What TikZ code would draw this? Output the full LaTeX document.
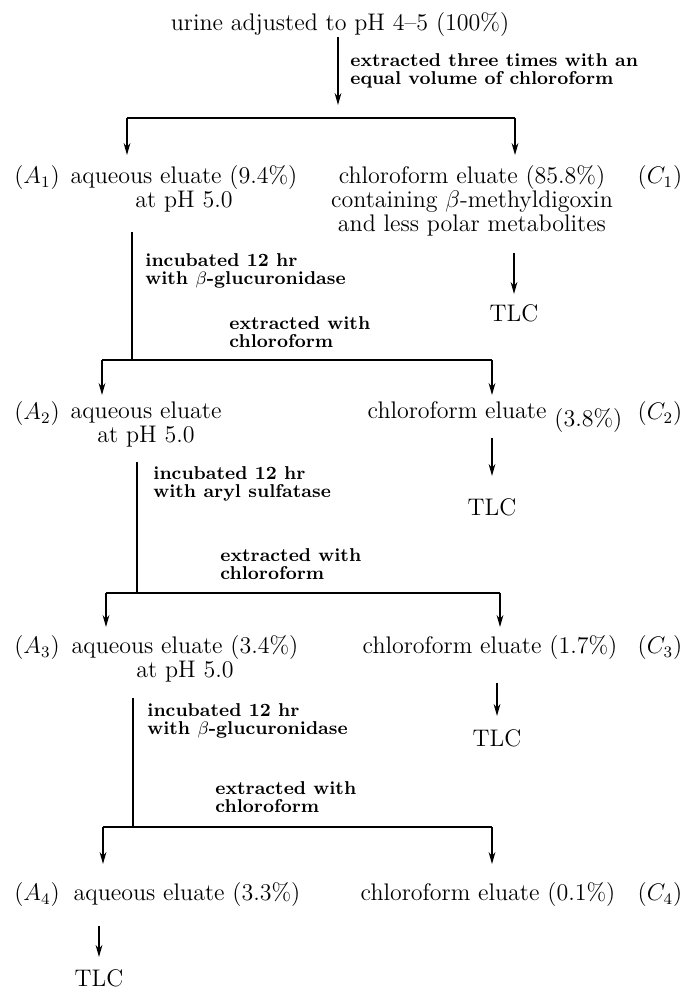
\documentclass[tikz,border=0pt]{standalone}
\usepackage{fontspec}
\usepackage{tikz}
\usetikzlibrary{arrows.meta,calc}
\pgfkeys{tikz/mytext/.style={font=\fontsize{12}{12}\selectfont,inner sep=0pt,align=center,anchor=north}}
\pgfkeys{tikz/mynote/.style={font=\fontsize{9.3}{9}\selectfont\bfseries,inner sep=0pt,align=left,anchor=north west}}
\pgfkeys{tikz/mytlc/.style={font=\fontsize{12}{12}\selectfont,inner sep=0pt}}
\pgfkeys{tikz/myarrow/.style={line width=0.65pt,-{Stealth[length=6pt,width=3.4pt]}}}
\pgfkeys{tikz/mystem/.style={line width=0.65pt}}
\pgfkeys{tikz/mybar/.style={line width=1pt}}
\newcommand*\mysplitbar[5][4pt]{
    \draw[mybar] (#2) -- (#3);
    \draw[myarrow,shorten >=#1] (#2) -- (#2 |- #4.north);
    \draw[myarrow,shorten >=#1] (#3) -- (#3 |- #5.north);
}

\begin{document}
\begin{tikzpicture}[x=0.5pt,y=-0.5pt]
    \useasboundingbox (0,0) rectangle (686,991);
    \node[mytext] (urine) at (340,12) {urine adjusted to pH 4--5 (100\%)};
    \coordinate (s0) at (338,105);
    \draw[myarrow] (urine.south -| s0) -- (s0);
    \node[mynote] (n0) at (350,53) {extracted three times with an\\equal volume of chloroform};
    % first extraction
    \coordinate (b1l) at (127,118);
    \coordinate (b1r) at (515,118);
    \node[mytext] (a1tag) at (37,165) {($A_{1}$)};
    \node[mytext] (a1) at (184,165) {aqueous eluate (9.4\%)\\at pH 5.0};
    \node[mytext] (c1) at (472,165) {chloroform eluate (85.8\%)\\containing $\beta$-methyldigoxin\\and less polar metabolites};
    \node[mytext] (c1tag) at (660,165) {($C_{1}$)};
    \mysplitbar[5pt]{b1l}{b1r}{a1}{c1}
    \node[mytlc] (t1) at (514,313) {TLC};
    \draw[myarrow,shorten <=8.5pt,shorten >=5pt] (c1.south -| t1) -- (t1.north);
    \coordinate (j1) at (132,360);
    \draw[mystem,shorten <=10pt] (j1 |- a1.south) -- (j1);
    \node[mynote] (n1) at (145,253) {incubated 12 hr\\with $\beta$-glucuronidase};
    \node[mynote] (n2) at (229,316) {extracted with\\chloroform};
    % second extraction
    \coordinate (b2l) at (102,360);
    \coordinate (b2r) at (492,360);
    \node[mytext] (a2tag) at (37,401) {($A_{2}$)};
    \node[mytext] (a2) at (146,401) {aqueous eluate\\at pH 5.0};
    \node[mytext] (c2) at (495,401) {chloroform eluate \raisebox{-4pt}{(3.8\%)}};
    \node[mytext] (c2tag) at (660,401) {($C_{2}$)};
    \mysplitbar[3pt]{b2l}{b2r}{a2}{c2}
    \node[mytlc] (t2) at (492,507) {TLC};
    \draw[myarrow,shorten <=2.5pt,shorten >=11pt] (c2.south -| t2) -- (t2.north);
    \coordinate (j2) at (137,593);
    \draw[mystem,shorten <=7.5pt] (j2 |- a2.south) -- (j2);
    \node[mynote] (n3) at (153,466) {incubated 12 hr\\with aryl sulfatase};
    \node[mynote] (n4) at (220,548) {extracted with\\chloroform};
    % third extraction
    \coordinate (b3l) at (106,593);
    \coordinate (b3r) at (500,593);
    \node[mytext] (a3tag) at (37,635) {($A_{3}$)};
    \node[mytext] (a3) at (185,635) {aqueous eluate (3.4\%)\\at pH 5.0};
    \node[mytext] (c3) at (490,635) {chloroform eluate (1.7\%)};
    \node[mytext] (c3tag) at (660,635) {($C_{3}$)};
    \mysplitbar[4pt]{b3l}{b3r}{a3}{c3}
    \node[mytlc] (t3) at (497,738) {TLC};
    \draw[myarrow,shorten <=11.5pt,shorten >=6.5pt] (c3.south -| t3) -- (t3.north);
    \coordinate (j3) at (133,827);
    \draw[mystem,shorten <=8pt] (j3 |- a3.south) -- (j3);
    \node[mynote] (n5) at (147,703) {incubated 12 hr\\with $\beta$-glucuronidase};
    \node[mynote] (n6) at (215,781) {extracted with\\chloroform};
    % fourth extraction
    \coordinate (b4l) at (103,827);
    \coordinate (b4r) at (492,827);
    \node[mytext] (a4tag) at (37,882) {($A_{4}$)};
    \node[mytext] (a4) at (187,882) {aqueous eluate (3.3\%)};
    \node[mytext] (c4) at (488,882) {chloroform eluate (0.1\%)};
    \node[mytext] (c4tag) at (660,882) {($C_{4}$)};
    \mysplitbar[9pt]{b4l}{b4r}{a4}{c4}
    \node[mytlc] (t4) at (99,978) {TLC};
    \draw[myarrow,shorten <=9.5pt,shorten >=6pt] (a4.south -| t4) -- (t4.north);
\end{tikzpicture}
\end{document}
